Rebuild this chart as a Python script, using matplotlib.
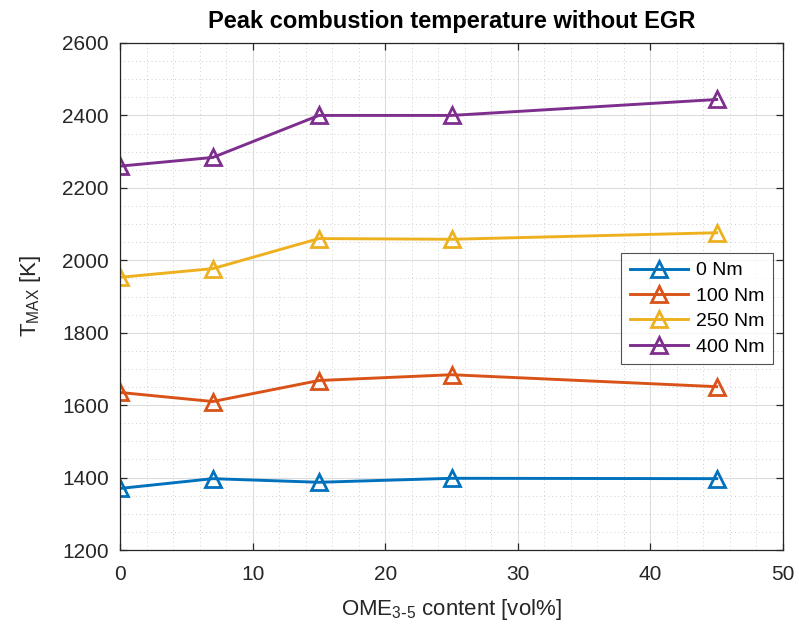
import matplotlib
matplotlib.use("Agg")
import matplotlib.pyplot as plt
from matplotlib.ticker import MultipleLocator

plt.rcParams['font.family'] = ['Liberation Sans', 'DejaVu Sans']
plt.rcParams['mathtext.default'] = 'regular'

ome_content = [0, 7, 15, 25, 45]
t_0nm = [1370, 1397, 1387, 1398, 1397]
t_100nm = [1635, 1610, 1668, 1684, 1651]
t_250nm = [1953, 1977, 2060, 2058, 2076]
t_400nm = [2260, 2284, 2400, 2400, 2444]
labels = ['0 Nm', '100 Nm', '250 Nm', '400 Nm']
colors = ['#0072BD', '#D95319', '#EDB120', '#7E2F8E']

fig = plt.figure(figsize=(7.99, 6.37), dpi=100)
ax = fig.add_axes([120/799, (637-550)/637, (783-120)/799, (550-43)/637])

for ys, lab, c in zip([t_0nm, t_100nm, t_250nm, t_400nm], labels, colors):
    ax.plot(ome_content, ys, color=c, lw=2.1, marker='^', markersize=12,
            markerfacecolor='none', markeredgewidth=2.0, label=lab)

ax.set_xlim(0, 50)
ax.set_ylim(1200, 2600)
ax.xaxis.set_major_locator(MultipleLocator(10))
ax.xaxis.set_minor_locator(MultipleLocator(2))
ax.yaxis.set_major_locator(MultipleLocator(200))
ax.yaxis.set_minor_locator(MultipleLocator(50))

ax.grid(True, which='major', color='#dcdcdc', lw=0.8, ls='-')
ax.grid(True, which='minor', color='#cfcfcf', lw=0.7, ls=(0, (1, 3)))
ax.set_axisbelow(True)

dark = '#262626'
for s in ax.spines.values():
    s.set_color(dark)
    s.set_linewidth(0.9)
ax.tick_params(which='major', direction='in', length=5, width=0.9, colors=dark,
               top=True, right=True, labelsize=15)
ax.tick_params(axis='x', which='major', pad=11)
ax.tick_params(axis='y', which='major', pad=8)
ax.tick_params(which='minor', length=0, top=True, right=True)

ax.set_title('Peak combustion temperature without EGR', fontsize=17,
             fontweight='bold', color='black', pad=11)
ax.set_xlabel('OME$_{3\\text{-}5}$ content [vol%]', fontsize=16, color=dark, labelpad=9)
ax.set_ylabel('T$_{MAX}$ [K]', fontsize=16, color=dark, labelpad=14)

leg = ax.legend(loc='upper left', bbox_to_anchor=((621-120)/663, (550-253)/507),
                borderaxespad=0, fontsize=14, frameon=True, fancybox=False,
                handlelength=3.0, handletextpad=0.4, labelspacing=0.4,
                borderpad=0.45)
leg.get_frame().set_edgecolor('#262626')
leg.get_frame().set_linewidth(0.8)
for t in leg.get_texts():
    t.set_color('black')

fig.savefig('out.png', dpi=100)
